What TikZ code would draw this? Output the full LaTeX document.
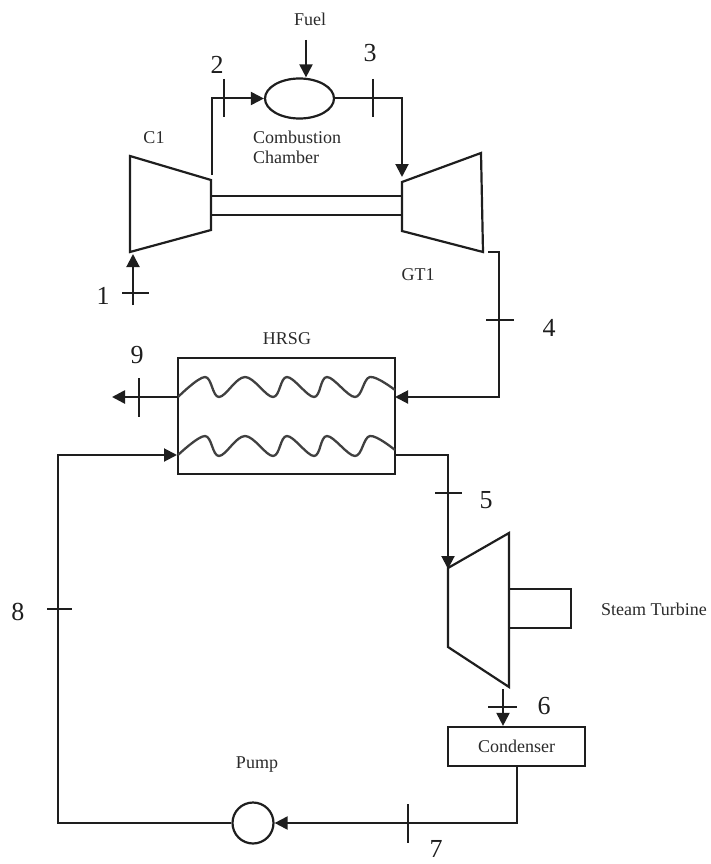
\documentclass[tikz,border=0pt]{standalone}
\usepackage{fontspec}
\setmainfont{Liberation Serif}
\usetikzlibrary{arrows.meta,shapes.geometric}
\definecolor{ink}{HTML}{1E1E1E}
\definecolor{lab}{HTML}{2A2A2A}
\tikzset{
  pipe/.style={draw=ink,line width=2pt,line join=miter},
  flow/.style={pipe,-{Triangle[length=13pt,width=13pt]}},
  flowthick/.style={flow,line width=2.6pt},
  ticks/.style={draw=ink,line width=2pt},
  machine/.style={draw=ink,line width=2.2pt,line join=miter},
  coil/.style={draw=ink!85,line width=2.3pt,smooth,tension=0.6},
  num/.style={font=\fontsize{26}{26}\selectfont,text=ink,inner sep=0pt},
  lbl/.style={font=\fontsize{18}{20}\selectfont,text=lab,inner sep=0pt},
  unitbox/.style={draw=ink,line width=2.2pt,rectangle,inner sep=0pt}
}
\begin{document}
\begin{tikzpicture}[x=1pt,y=-1pt]
\useasboundingbox (0,0) rectangle (710,864);
% equipment
\node[unitbox,ellipse,minimum width=69pt,minimum height=40pt] (cc) at (299.5,98.5) {};
\node[unitbox,minimum width=217pt,minimum height=116pt] (hrsg) at (286.5,416) {};
\node[unitbox,minimum width=137pt,minimum height=39pt,font=\fontsize{18}{20}\selectfont,text=lab] (cond) at (516.5,746.5) {Condenser};
\node[unitbox,circle,minimum size=41pt] (pump) at (253,823) {};
% compressor, gas turbine, steam turbine
\coordinate (c1a) at (130,156); \coordinate (c1b) at (211,180);
\coordinate (c1c) at (211,230); \coordinate (c1d) at (130,252);
\coordinate (g1a) at (402,182); \coordinate (g1b) at (481,153);
\coordinate (g1c) at (483,252); \coordinate (g1d) at (402,231);
\coordinate (s1a) at (448,568); \coordinate (s1b) at (509,533);
\coordinate (s1c) at (509,687); \coordinate (s1d) at (448,647);
\draw[machine] (c1a) -- (c1b) -- (c1c) -- (c1d) -- cycle;
\draw[machine] (g1a) -- (g1b) -- (g1c) -- (g1d) -- cycle;
\draw[machine] (s1a) -- (s1b) -- (s1c) -- (s1d) -- cycle;
\draw[machine] (c1a -| c1b) ++(0,40) -- ++(191,0) ++(-191,19) -- ++(191,0);
\draw[machine] (509,589) -- (571,589) -- (571,628) -- (509,628);
% coils
\draw[coil] plot coordinates {(178,397) (205,377) (219,397) (245,377) (273,397) (287,377) (314,397) (327,377) (355,397) (370,377) (395,390)};
\draw[coil] plot coordinates {(178,455) (205,436) (219,456) (245,436) (273,456) (287,436) (314,456) (327,436) (355,456) (370,436) (395,450)};
% connectors
\coordinate (in1) at (133,305);
\coordinate (c1tip) at (133,254);
\coordinate (fuelin) at (306,40);
\coordinate (out9) at (112,397);
\coordinate (c1out) at (212,175);
\coordinate (g1in) at (402,177);
\coordinate (g1out) at (488,252);
\coordinate (hin) at (395,397);
\coordinate (hleft) at (178,397);
\coordinate (sin) at (448,569);
\coordinate (hout) at (395,455);
\coordinate (hret) at (177,455);
\coordinate (sout) at (503,689);
\coordinate (rbend) at (58,823);
\draw[flow] (in1) -- (c1tip);
\draw[flow] (c1out) |- (cc.west);
\draw[flow] (fuelin) -- (fuelin |- cc.north);
\draw[flow] (cc.east) -| (g1in);
\draw[flow] (g1out) -- (499,252) |- (hin);
\draw[flowthick] (hleft) -- (out9);
\draw[flow] (hout) -| (sin);
\draw[flow] (sout) -- (sout |- cond.north);
\draw[flow] (cond.south) |- (pump.east);
\draw[flow] (pump.west) -- (rbend) |- (hret);
% state ticks
\draw[ticks] (224,79) -- (224,117);
\draw[ticks] (373,79) -- (373,117);
\draw[ticks] (122,293) -- (149,293);
\draw[ticks] (486,320) -- (514,320);
\draw[ticks] (139,378) -- (139,417);
\draw[ticks] (435,493) -- (462,493);
\draw[ticks] (488,707) -- (517,707);
\draw[ticks] (408,804) -- (408,843);
\draw[ticks] (47,609) -- (72,609);
% numbers
\node[num] (n1) at (103,296) {1};
\node[num] (n2) at (217,65) {2};
\node[num] (n3) at (370,53) {3};
\node[num] (n4) at (549,328) {4};
\node[num] (n5) at (486,500) {5};
\node[num] (n6) at (544,706) {6};
\node[num] (n7) at (436,849) {7};
\node[num] (n8) at (18,612) {8};
\node[num] (n9) at (137,355) {9};
% labels
\node[lbl] (fuel) at (310,19) {Fuel};
\node[lbl] (c1) at (154,138) {C1};
\node[lbl,anchor=west] (comb1) at (253,137) {Combustion};
\node[lbl,anchor=west] (comb2) at (253,157) {Chamber};
\node[lbl] (gt1) at (418,275) {GT1};
\node[lbl] (hr) at (287,339) {HRSG};
\node[lbl] (st) at (654,609) {Steam Turbine};
\node[lbl] (pu) at (257,765) {Pump};
\end{tikzpicture}
\end{document}
